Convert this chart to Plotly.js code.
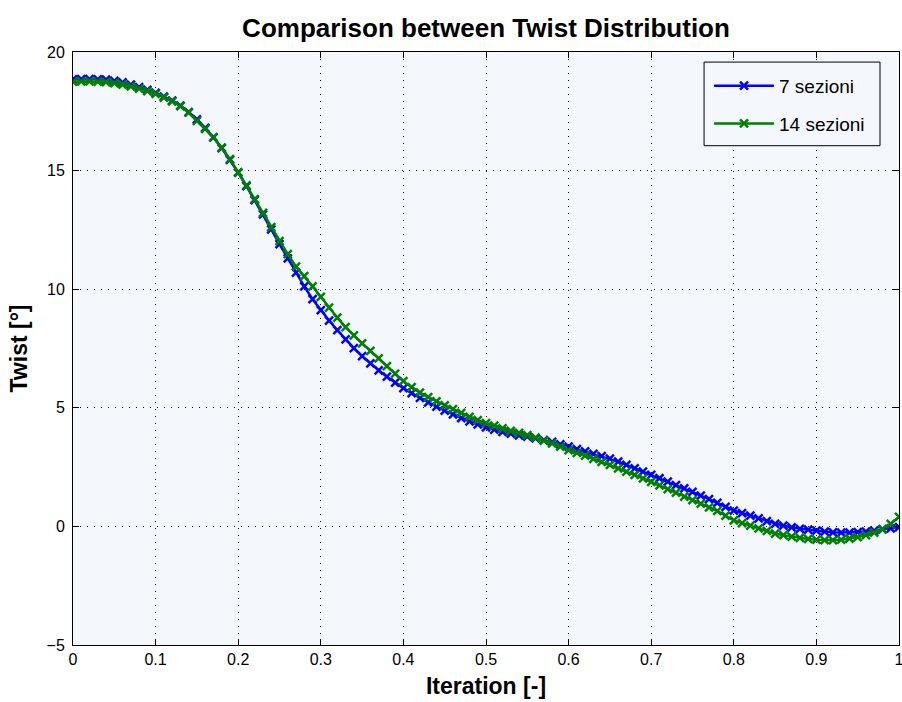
<!DOCTYPE html>
<html>
<head>
<meta charset="utf-8">
<script src="https://cdn.plot.ly/plotly-3.0.1.min.js"></script>
<style>
  html, body { margin: 0; padding: 0; background: #ffffff; }
  #chart { width: 902px; height: 702px; }
</style>
</head>
<body>
<div id="chart"></div>
<script>
// Spanwise stations (normalised), one every 0.01
const stations = [
  0.00, 0.01, 0.02, 0.03, 0.04, 0.05, 0.06, 0.07, 0.08, 0.09,
  0.10, 0.11, 0.12, 0.13, 0.14, 0.15, 0.16, 0.17, 0.18, 0.19,
  0.20, 0.21, 0.22, 0.23, 0.24, 0.25, 0.26, 0.27, 0.28, 0.29,
  0.30, 0.31, 0.32, 0.33, 0.34, 0.35, 0.36, 0.37, 0.38, 0.39,
  0.40, 0.41, 0.42, 0.43, 0.44, 0.45, 0.46, 0.47, 0.48, 0.49,
  0.50, 0.51, 0.52, 0.53, 0.54, 0.55, 0.56, 0.57, 0.58, 0.59,
  0.60, 0.61, 0.62, 0.63, 0.64, 0.65, 0.66, 0.67, 0.68, 0.69,
  0.70, 0.71, 0.72, 0.73, 0.74, 0.75, 0.76, 0.77, 0.78, 0.79,
  0.80, 0.81, 0.82, 0.83, 0.84, 0.85, 0.86, 0.87, 0.88, 0.89,
  0.90, 0.91, 0.92, 0.93, 0.94, 0.95, 0.96, 0.97, 0.98, 0.99,
  1.00
];

// Twist [deg] obtained with 7 sections
const twist7 = [
  18.85, 18.86, 18.86, 18.85, 18.83, 18.78, 18.72, 18.62, 18.52, 18.40,
  18.28, 18.12, 17.95, 17.74, 17.47, 17.16, 16.80, 16.40, 15.95, 15.45,
  14.92, 14.35, 13.76, 13.15, 12.52, 11.90, 11.30, 10.70, 10.12, 9.58,
  9.12, 8.68, 8.27, 7.88, 7.52, 7.18, 6.87, 6.58, 6.31, 6.06,
  5.83, 5.62, 5.42, 5.23, 5.05, 4.88, 4.72, 4.57, 4.43, 4.30,
  4.18, 4.08, 3.99, 3.91, 3.84, 3.78, 3.71, 3.64, 3.56, 3.46,
  3.36, 3.26, 3.16, 3.06, 2.96, 2.86, 2.73, 2.59, 2.45, 2.31,
  2.17, 2.03, 1.89, 1.74, 1.60, 1.46, 1.30, 1.15, 0.99, 0.82,
  0.67, 0.56, 0.45, 0.34, 0.22, 0.11, 0.03, -0.04, -0.10, -0.14,
  -0.18, -0.22, -0.25, -0.26, -0.26, -0.24, -0.22, -0.18, -0.13, -0.08,
  -0.03
];

// Twist [deg] obtained with 14 sections
const twist14 = [
  18.75, 18.76, 18.76, 18.75, 18.73, 18.69, 18.63, 18.55, 18.46, 18.35,
  18.24, 18.08, 17.92, 17.72, 17.44, 17.10, 16.76, 16.40, 15.97, 15.48,
  14.92, 14.38, 13.80, 13.22, 12.62, 12.03, 11.48, 10.95, 10.55, 10.12,
  9.68, 9.22, 8.80, 8.40, 8.05, 7.72, 7.40, 7.08, 6.76, 6.44,
  6.12, 5.87, 5.64, 5.45, 5.27, 5.10, 4.94, 4.79, 4.62, 4.48,
  4.35, 4.25, 4.13, 4.03, 3.94, 3.85, 3.74, 3.62, 3.50, 3.36,
  3.22, 3.10, 2.98, 2.85, 2.72, 2.59, 2.45, 2.31, 2.17, 2.02,
  1.88, 1.73, 1.57, 1.42, 1.26, 1.11, 0.96, 0.80, 0.65, 0.45,
  0.25, 0.14, 0.03, -0.08, -0.19, -0.30, -0.37, -0.43, -0.48, -0.53,
  -0.56, -0.58, -0.58, -0.56, -0.51, -0.45, -0.37, -0.26, -0.11, 0.11,
  0.40
];

const xTicks = [0, 0.1, 0.2, 0.3, 0.4, 0.5, 0.6, 0.7, 0.8, 0.9, 1];
const xTickText = ['0', '0.1', '0.2', '0.3', '0.4', '0.5', '0.6', '0.7', '0.8', '0.9', '1'];
const yTicks = [-5, 0, 5, 10, 15, 20];
const seriesNames = ['7 sezioni', '14 sezioni'];

const FONT = '"Liberation Sans", Arial, sans-serif';
const PLOT_BG = 'rgb(244,248,252)';

function series(y, name, color, group) {
  return {
    type: 'scatter',
    mode: 'lines+markers',
    x: stations,
    y: y,
    name: name,
    legendgroup: group,
    line: { color: color, width: 2.5 },
    marker: { symbol: 'x-thin', size: 8, line: { color: color, width: 2.5 } }
  };
}

const data = [
  series(twist7, seriesNames[0], '#0000ff', 'a'),
  series(twist14, seriesNames[1], '#008000', 'b')
];

const axisCommon = {
  showline: true,
  linecolor: '#000000',
  linewidth: 1,
  mirror: 'ticks',
  ticks: 'inside',
  ticklen: 6,
  tickcolor: '#000000',
  showgrid: true,
  gridcolor: '#000000',
  gridwidth: 1,
  griddash: '1px,6px',
  zeroline: false,
  ticklabeloverflow: 'allow',
  tickfont: { family: FONT, size: 16, color: '#000000' }
};

// Legend frame (paper coordinates)
const legX0 = 0.764, legX1 = 0.977, legY0 = 0.842, legY1 = 0.983;

const layout = {
  width: 902,
  height: 702,
  margin: { l: 73, r: 3, t: 52, b: 57, pad: 0 },
  paper_bgcolor: '#ffffff',
  plot_bgcolor: PLOT_BG,
  font: { family: FONT, color: '#000000' },
  title: {
    text: '<b>Comparison between Twist Distribution</b>',
    font: { family: FONT, size: 26, color: '#000000' },
    x: 0.5, xref: 'paper', xanchor: 'center',
    y: 1 - 28 / 702, yref: 'container', yanchor: 'middle'
  },
  xaxis: Object.assign({}, axisCommon, {
    range: [0, 1],
    tickvals: xTicks,
    ticktext: xTickText,
    title: { text: '<b>Iteration [-]</b>', font: { family: FONT, size: 23, color: '#000000' }, standoff: 10 }
  }),
  yaxis: Object.assign({}, axisCommon, {
    range: [-5, 20],
    tickvals: yTicks,
    ticklabelstandoff: 4,
    title: { text: '<b>Twist [°]</b>', font: { family: FONT, size: 23, color: '#000000' }, standoff: 12 }
  }),
  showlegend: true,
  legend: {
    x: 0.770, xanchor: 'left',
    y: 0.975, yanchor: 'top',
    bgcolor: 'rgba(0,0,0,0)',
    borderwidth: 0,
    font: { family: FONT, size: 19, color: '#000000' },
    tracegroupgap: 10,
    itemwidth: 60
  },
  shapes: [{
    type: 'rect', xref: 'paper', yref: 'paper',
    x0: legX0, x1: legX1, y0: legY0, y1: legY1,
    fillcolor: PLOT_BG,
    line: { color: '#000000', width: 1 },
    layer: 'above'
  }]
};

Plotly.newPlot('chart', data, layout, { displayModeBar: false, staticPlot: true });
</script>
</body>
</html>
